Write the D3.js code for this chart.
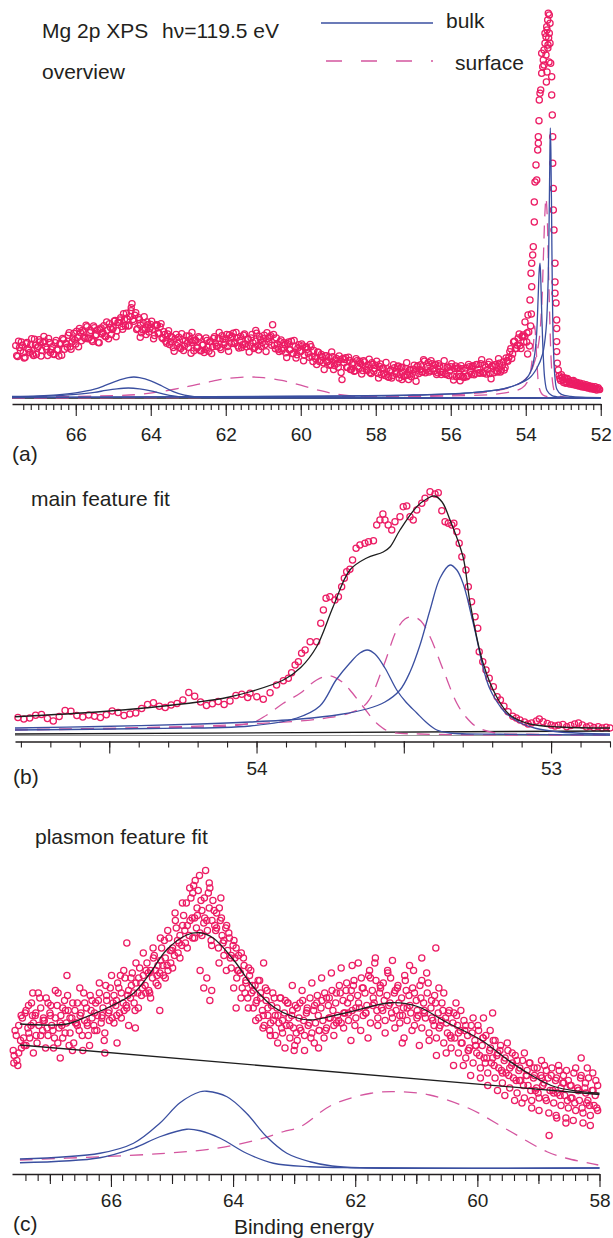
<!DOCTYPE html>
<html><head><meta charset="utf-8">
<script src="https://cdn.jsdelivr.net/npm/d3@7"></script>
<style>
body{margin:0;background:#fff}
svg{display:block}
text{font-family:"Liberation Sans",Arial,Helvetica,sans-serif;fill:#231f20}
</style></head>
<body>
<script>
// ---------- tick labels ----------
const aTickLabels=[66,64,62,60,58,56,54,52];
const bTickLabels=[54,53];
const bMajorTicks=[54.5,54,53.5,53];
const cTickLabels=[66,64,62,60,58];
const cMidTicks=[67,65,63,61,59];

// ---------- panel (a): overview spectrum [binding energy, intensity] ----------
const aBand=[
[67.60,13.1],[67.55,10.4],[67.50,12.6],[67.45,14.0],[67.40,11.3],[67.35,10.2],[67.30,13.9],[67.25,12.0],[67.20,13.3],[67.15,11.0],
[67.10,14.7],[67.05,10.9],[67.00,12.9],[66.95,14.0],[66.90,11.9],[66.85,15.4],[66.80,12.8],[66.75,10.6],[66.70,13.9],[66.65,12.1],
[66.60,11.0],[66.55,13.8],[66.50,12.0],[66.45,10.5],[66.40,13.6],[66.35,14.9],[66.30,12.2],[66.25,13.6],[66.20,15.7],[66.15,12.8],
[66.10,14.0],[66.05,16.2],[66.00,13.5],[65.95,15.1],[65.90,17.4],[65.85,14.3],[65.80,16.5],[65.75,14.9],[65.70,17.8],[65.65,15.0],
[65.60,16.9],[65.55,14.1],[65.50,17.6],[65.45,15.8],[65.40,13.9],[65.35,17.2],[65.30,16.0],[65.25,18.1],[65.20,15.3],[65.15,17.0],
[65.10,18.6],[65.05,15.9],[65.00,17.5],[64.95,19.4],[64.90,16.8],[64.85,18.9],[64.80,20.1],[64.75,17.2],[64.70,19.6],[64.65,21.2],
[64.60,18.0],[64.55,20.4],[64.50,23.6],[64.45,19.2],[64.40,21.3],[64.35,17.4],[64.30,19.6],[64.25,16.3],[64.20,18.8],[64.15,17.0],
[64.10,19.0],[64.05,16.5],[64.00,18.4],[63.95,17.2],[63.90,15.6],[63.85,18.3],[63.80,16.2],[63.75,17.8],[63.70,15.1],[63.65,16.6],
[63.60,14.2],[63.55,16.0],[63.50,13.4],[63.45,15.3],[63.40,12.6],[63.35,14.8],[63.30,13.1],[63.25,15.2],[63.20,12.4],[63.15,14.6],
[63.10,13.0],[63.05,15.5],[63.00,12.7],[62.95,14.6],[62.90,13.9],[62.85,11.8],[62.80,14.4],[62.75,12.6],[62.70,15.0],[62.65,11.9],
[62.60,13.3],[62.55,12.1],[62.50,14.4],[62.45,11.7],[62.40,14.1],[62.35,12.8],[62.30,15.3],[62.25,13.0],[62.20,14.9],[62.15,12.6],
[62.10,15.6],[62.05,13.4],[62.00,14.8],[61.95,12.9],[61.90,15.8],[61.85,13.6],[61.80,16.2],[61.75,13.9],[61.70,15.1],[61.65,12.5],
[61.60,15.4],[61.55,13.3],[61.50,16.0],[61.45,12.8],[61.40,14.7],[61.35,13.0],[61.30,15.9],[61.25,12.4],[61.20,14.2],[61.15,13.1],
[61.10,15.4],[61.05,12.9],[61.00,14.8],[60.95,13.4],[60.90,16.3],[60.85,14.0],[60.80,15.6],[60.75,18.3],[60.70,13.2],[60.65,15.0],
[60.60,12.2],[60.55,14.1],[60.50,11.9],[60.45,13.8],[60.40,11.3],[60.35,13.6],[60.30,12.0],[60.25,14.2],[60.20,11.1],[60.15,12.9],
[60.10,10.8],[60.05,13.3],[60.00,11.6],[59.95,13.0],[59.90,10.7],[59.85,12.8],[59.80,11.2],[59.75,13.4],[59.70,10.3],[59.65,11.9],
[59.60,9.8],[59.55,11.5],[59.50,9.1],[59.45,10.9],[59.40,8.8],[59.35,10.6],[59.30,9.0],[59.25,10.2],[59.20,8.4],[59.15,10.3],
[59.10,8.1],[59.05,9.9],[59.00,7.7],[58.95,9.6],[58.90,4.6],[58.85,8.9],[58.80,10.1],[58.75,7.6],[58.70,9.4],[58.65,7.1],
[58.60,8.9],[58.55,6.8],[58.50,9.3],[58.45,7.4],[58.40,8.6],[58.35,6.9],[58.30,9.0],[58.25,7.2],[58.20,8.3],[58.15,6.4],
[58.10,8.8],[58.05,6.7],[58.00,8.2],[57.95,6.2],[57.90,7.9],[57.85,5.8],[57.80,7.5],[57.75,5.6],[57.70,7.3],[57.65,5.2],
[57.60,7.0],[57.55,5.6],[57.50,7.6],[57.45,6.0],[57.40,8.0],[57.35,5.9],[57.30,7.7],[57.25,5.4],[57.20,7.4],[57.15,5.7],
[57.10,7.0],[57.05,5.3],[57.00,7.2],[56.95,5.6],[56.90,7.8],[56.85,6.1],[56.80,8.3],[56.75,6.5],[56.70,9.2],[56.65,7.0],
[56.60,8.9],[56.55,6.8],[56.50,8.6],[56.45,6.7],[56.40,8.4],[56.35,6.3],[56.30,8.0],[56.25,5.9],[56.20,7.9],[56.15,6.1],
[56.10,7.7],[56.05,5.6],[56.00,7.8],[55.95,5.5],[55.90,7.4],[55.85,5.3],[55.80,7.6],[55.75,5.4],[55.70,7.3],[55.65,5.1],
[55.60,7.5],[55.55,5.6],[55.50,7.8],[55.45,5.9],[55.40,8.1],[55.35,6.2],[55.30,8.4],[55.25,6.3],[55.20,8.6],[55.15,6.4],
[55.10,8.2],[55.05,6.0],[55.00,8.4],[54.95,6.1],[54.90,8.0],[54.85,6.3],[54.80,8.3],[54.75,6.5],[54.70,8.7],[54.65,7.0],
[54.60,9.0],[54.55,7.6],[54.50,9.4],[54.45,10.2],[54.40,12.3],[54.35,11.0],[54.30,14.2],[54.25,12.4],[54.20,15.0],[54.15,13.1],
[54.10,15.4],[54.05,14.0],
[64.52,22.6],[64.28,15.2],[62.90,16.4],[61.20,16.9],[57.30,4.6],[55.75,4.3]
];
const aBand2=[
[67.575,10.6],[67.525,14.2],[67.475,11.8],[67.425,13.2],[67.375,10.0],[67.325,13.6],[67.275,12.4],[67.225,11.4],[67.175,14.8],[67.125,10.6],
[67.075,13.2],[67.025,12.5],[66.975,14.6],[66.925,10.5],[66.875,13.9],[66.825,14.2],[66.775,12.2],[66.725,14.9],[66.675,11.4],[66.625,12.8],
[66.575,10.9],[66.525,14.4],[66.475,12.1],[66.425,13.6],[66.375,10.7],[66.325,14.6],[66.275,13.6],[66.225,12.7],[66.175,16.3],[66.125,12.2],
[66.075,15.0],[66.025,14.5],[65.975,16.7],[65.925,12.8],[65.875,16.4],[65.825,16.9],[65.775,15.2],[65.725,18.2],[65.675,14.8],[65.625,16.3],
[65.575,14.5],[65.525,18.0],[65.475,15.6],[65.425,17.0],[65.375,13.8],[65.325,17.5],[65.275,16.4],[65.225,15.5],[65.175,19.0],[65.125,14.8],
[65.075,17.6],[65.025,17.1],[64.975,19.2],[64.925,15.3],[64.875,18.9],[64.825,19.5],[64.775,17.9],[64.725,21.1],[64.675,18.0],[64.625,19.7],
[64.575,18.1],[64.525,21.8],[64.475,19.6],[64.425,20.7],[64.375,17.1],[64.325,20.1],[64.275,18.2],[64.225,17.1],[64.175,20.3],[64.125,15.9],
[64.075,18.3],[64.025,17.4],[63.975,19.2],[63.925,14.8],[63.875,18.0],[63.825,18.2],[63.775,16.1],[63.725,18.6],[63.675,14.8],[63.625,15.9],
[63.575,13.7],[63.525,16.8],[63.475,14.1],[63.425,15.1],[63.375,11.7],[63.325,15.9],[63.275,13.7],[63.225,12.7],[63.175,16.1],[63.125,11.9],
[63.075,14.4],[63.025,13.7],[62.975,15.5],[62.925,11.2],[62.875,14.3],[62.825,14.5],[62.775,12.5],[62.725,15.3],[62.675,11.8],[62.625,13.2],
[62.575,11.4],[62.525,15.0],[62.475,12.7],[62.425,14.1],[62.375,11.1],[62.325,14.9],[62.275,13.8],[62.225,12.9],[62.175,16.4],[62.125,12.1],
[62.075,14.7],[62.025,13.9],[61.975,15.9],[61.925,11.7],[61.875,15.1],[61.825,15.4],[61.775,13.6],[61.725,16.4],[61.675,13.0],[61.625,14.4],
[61.575,12.6],[61.525,15.7],[61.475,13.5],[61.425,14.7],[61.375,11.5],[61.325,15.0],[61.275,13.8],[61.225,12.7],[61.175,16.2],[61.125,12.0],
[61.075,14.6],[61.025,13.8],[60.975,15.7],[60.925,11.6],[60.875,14.9],[60.825,15.2],[60.775,13.2],[60.725,15.9],[60.675,12.3],[60.625,13.6],
[60.575,11.6],[60.525,14.5],[60.475,12.4],[60.425,13.4],[60.375,10.1],[60.325,14.0],[60.275,12.1],[60.225,11.1],[60.175,14.4],[60.125,10.0],
[60.075,12.5],[60.025,11.7],[59.975,13.5],[59.925,9.3],[59.875,12.7],[59.825,12.2],[59.775,10.2],[59.725,12.8],[59.675,9.1],[59.625,10.4],
[59.575,8.4],[59.525,11.4],[59.475,9.4],[59.425,10.3],[59.375,7.1],[59.325,10.6],[59.275,9.1],[59.225,8.2],[59.175,11.5],[59.125,7.1],
[59.075,9.5],[59.025,8.7],[58.975,10.5],[58.925,6.4],[58.875,9.9],[58.825,9.6],[58.775,7.7],[58.725,10.2],[58.675,7.1],[58.625,8.5],
[58.575,6.7],[58.525,9.8],[58.475,7.9],[58.425,9.2],[58.375,6.0],[58.325,9.3],[58.275,7.9],[58.225,6.9],[58.175,9.7],[58.125,6.1],
[58.075,8.4],[58.025,7.4],[57.975,9.2],[57.925,5.0],[57.875,8.5],[57.825,7.4],[57.775,6.1],[57.725,8.9],[57.675,5.3],[57.625,6.7],
[57.575,5.0],[57.525,8.3],[57.475,6.6],[57.425,7.8],[57.375,5.0],[57.325,7.6],[57.275,6.5],[57.225,5.6],[57.175,8.8],[57.125,4.6],
[57.075,7.1],[57.025,6.2],[56.975,8.2],[56.925,4.2],[56.875,8.1],[56.825,7.1],[56.775,6.5],[56.725,9.6],[56.675,6.3],[56.625,7.9],
[56.575,6.5],[56.525,9.3],[56.475,7.3],[56.425,8.4],[56.375,5.9],[56.325,8.6],[56.275,6.6],[56.225,6.4],[56.175,9.3],[56.125,5.9],
[56.075,7.7],[56.025,6.8],[55.975,8.6],[55.925,4.5],[55.875,8.0],[55.825,7.4],[55.775,5.9],[55.725,8.1],[55.675,5.3],[55.625,6.8],
[55.575,5.3],[55.525,8.4],[55.475,6.6],[55.425,7.8],[55.375,5.8],[55.325,8.3],[55.275,7.1],[55.225,6.2],[55.175,9.6],[55.125,6.2],
[55.075,7.7],[55.025,7.1],[54.975,9.0],[54.925,4.8],[54.875,8.0],[54.825,8.3],[54.775,6.7],[54.725,9.8],[54.675,6.5],[54.625,8.1],
[54.575,7.0],[54.525,10.0],[54.475,9.2],[54.425,11.6],[54.375,9.9],[54.325,14.0],[54.275,12.4],[54.225,13.2],[54.175,16.0],[54.125,12.4],
[54.075,15.3],[54.025,15.4]
];
const aPeak=[
[54.073,15.75],[54.02,19],[53.967,16.25],[53.94,20.75],[53.975,14],[53.95,11],[53.92,16.5],[53.90,13],[53.87,18],[53.85,21],
[53.887,24.5],[53.841,27.8],[53.86,31.2],[53.841,33.7],[53.815,35.75],[53.799,37.8],[53.772,44],[53.772,49],[53.753,54],[53.708,54.5],
[53.727,58.25],[53.681,62],[53.665,63.7],[53.665,65.3],[53.647,69.3],[53.639,74.5],[53.62,76.2],[53.601,77],[53.575,81.2],[53.548,82.8],
[53.532,84.5],[53.575,86.2],[53.513,87],[53.487,88.7],[53.46,90.3],[53.487,91.2],[53.441,92.8],[53.415,94.5],[53.399,96.2],[53.372,95.75],
[53.433,92],[53.407,88.25],[53.46,85.75],[53.38,84],[53.513,83.25],[53.433,81.5],[53.41,87.5],[53.45,79],[53.39,90],
[53.353,93.7],[53.372,91.2],[53.353,88.7],[53.335,83.7],[53.308,80.3],[53.308,75.75],[53.292,70.75],[53.281,65.3],[53.281,58.7],[53.265,52.4],
[53.265,47],[53.247,42],[53.22,33.7],[53.22,29],[53.22,26.2],[53.193,23.75],[53.175,19.5],[53.175,17.4],[53.175,14.1],[53.175,11.6],
[53.159,8.7],[53.132,7]
];
const aTail=[
[53.11,5.6],[53.07,4.4],[53.03,5.2],[52.99,3.9],[52.95,4.8],[52.91,4.0],[52.87,4.6],[52.83,3.5],[52.79,4.3],[52.75,3.4],
[52.71,4.1],[52.67,3.2],[52.63,3.9],[52.59,3.0],[52.55,3.7],[52.51,2.8],[52.47,3.5],[52.43,2.7],[52.39,3.3],[52.35,2.5],
[52.31,3.1],[52.27,2.3],[52.23,2.9],[52.19,2.2],[52.15,2.8],[52.11,2.0],[52.07,2.6],[52.03,2.1],
[53.09,4.9],[53.05,5.8],[53.01,4.5],[52.97,5.1],[52.93,3.7],[52.89,4.9],[52.85,4.1],[52.81,3.9],[52.77,3.6],[52.73,4.4],
[52.69,3.7],[52.65,3.5],[52.61,3.4],[52.57,3.1],[52.53,3.2],[52.49,2.9],[52.45,3.0],[52.41,3.0],[52.37,2.8],[52.33,2.7],
[52.29,2.8],[52.25,2.5],[52.21,2.5],[52.17,2.4],[52.13,2.3],[52.09,2.3],[52.05,2.2]
];
// fit components, panel (a)
const aBulkMain=[[67.7,0.15],[64,0.3],[60,0.45],[57,0.75],[55.5,1.3],[54.6,2.3],[54.2,3.5],[53.9,5],[53.7,7.5],[53.55,11],[53.46,17],[53.41,27],[53.38,42],[53.36,58],[53.345,67.5],[53.33,62],[53.31,45],[53.29,26],[53.26,12],[53.22,5],[53.17,2.2],[53.05,0.9],[52.8,0.4],[52.0,0.1]];
const aBulkSO=[[67.7,0.1],[64,0.25],[60,0.4],[57,0.7],[55.5,1.3],[54.6,2.3],[54.2,3.5],[54.0,4.7],[53.85,7],[53.76,11],[53.71,16],[53.67,25],[53.64,32],[53.62,33.7],[53.60,30],[53.57,20],[53.53,10],[53.49,4.5],[53.43,1.8],[53.3,0.6],[53.0,0.2],[52.0,0.05]];
const aSurfMain=[[67.7,0.1],[62,0.2],[58,0.4],[56,0.8],[55,1.5],[54.5,2.4],[54.1,4],[53.9,6],[53.75,9.5],[53.65,14],[53.58,22],[53.53,35],[53.49,46],[53.46,50],[53.43,46],[53.40,35],[53.36,20],[53.32,9],[53.27,3],[53.2,1],[53.0,0.3],[52.0,0.05]];
const aSurfSO=[[67.7,0.05],[60,0.2],[56,0.5],[54.6,1.2],[54.1,2.5],[53.93,4.5],[53.85,8],[53.79,14],[53.76,18],[53.73,14],[53.69,7],[53.64,2.5],[53.55,0.8],[53.3,0.2],[52.0,0]];
const aPlasBulk1=[[67.7,0.4],[67,0.55],[66.5,0.8],[66,1.3],[65.5,2.2],[65.2,3.2],[64.9,4.3],[64.6,5.1],[64.45,5.25],[64.3,5.1],[64.0,4.3],[63.7,3.0],[63.4,1.6],[63.1,0.7],[62.8,0.3],[62.4,0.15],[61,0.1],[52,0.05]];
const aPlasBulk2=[[67.7,0.3],[67,0.4],[66.5,0.6],[66,0.9],[65.5,1.4],[65.2,1.9],[64.9,2.3],[64.6,2.5],[64.3,2.3],[64.0,1.8],[63.7,1.1],[63.4,0.5],[63.1,0.2],[62.5,0.05],[52,0]];
const aPlasSurf=[[67.7,0.3],[66,0.4],[65,0.6],[64.3,0.9],[63.6,1.8],[63.0,2.9],[62.5,3.9],[62.0,4.8],[61.5,5.25],[61.3,5.25],[61.0,5.1],[60.5,4.4],[60.0,3.2],[59.5,1.9],[59.0,0.9],[58.5,0.4],[58,0.2],[52,0.1]];
const aBackground=[[67.7,0],[52,0]];

// ---------- panel (b): main feature fit ----------
const bData=[
[54.81,7.0],[54.79,6.4],[54.77,6.8],[54.75,7.9],[54.73,8.2],[54.71,6.6],[54.69,5.6],[54.67,7.4],[54.65,9.8],[54.63,9.5],
[54.61,7.8],[54.59,7.2],[54.57,8.0],[54.55,7.5],[54.53,7.0],[54.51,8.1],[54.49,9.6],[54.47,9.0],[54.45,7.8],[54.43,8.4],
[54.41,8.8],[54.39,10.6],[54.37,12.2],[54.35,12.9],[54.33,11.5],[54.31,11.0],[54.29,12.0],[54.27,12.6],[54.25,14.0],[54.23,17.0],
[54.21,15.5],[54.19,13.2],[54.17,11.8],[54.15,12.5],[54.13,13.4],[54.11,12.2],[54.09,13.6],[54.07,15.8],[54.05,16.3],[54.03,15.0],
[54.022,16.7],[53.999,15.3],[53.977,14.3],[53.954,16.9],[53.932,20.0],[53.909,21.7],[53.892,22.7],[53.881,24.9],[53.869,28.0],[53.858,29.3],
[53.847,32.7],[53.835,34.0],[53.818,37.3],[53.796,37.3],[53.782,44.7],[53.773,50.0],[53.764,54.7],[53.751,55.3],[53.734,54.0],[53.722,55.3],
[53.711,59.3],[53.702,62.7],[53.694,65.3],[53.683,66.3],[53.674,70.0],[53.662,74.7],[53.649,76.0],[53.632,76.7],[53.620,77.3],[53.603,77.7],
[53.592,84.0],[53.581,86.0],[53.571,88.4],[53.564,86.0],[53.553,84.0],[53.541,82.0],[53.530,85.3],[53.513,87.3],[53.502,91.3],[53.490,91.6],
[53.479,87.3],[53.468,86.0],[53.456,90.0],[53.439,92.7],[53.428,94.7],[53.411,97.3],[53.394,96.4],[53.383,96.9],[53.371,89.7],[53.360,85.3],
[53.349,84.7],[53.337,84.0],[53.330,84.7],[53.320,81.3],[53.312,76.7],[53.303,71.3],[53.289,66.0],[53.281,59.3],[53.270,53.3],[53.258,47.3],
[53.249,42.7],[53.244,33.3],[53.232,29.3],[53.221,26.0],[53.210,22.7],[53.196,19.3],[53.183,15.3],
[53.172,14.0],[53.16,11.5],[53.146,9.3],[53.13,7.5],[53.118,6.8],[53.106,6.0],[53.09,5.2],[53.078,4.4],[53.066,4.8],[53.05,5.6],
[53.04,6.4],[53.027,5.3],[53.013,4.6],[53.0,4.0],[52.987,3.6],[52.975,3.9],[52.96,4.2],[52.947,3.3],[52.933,3.8],[52.92,4.4],
[52.907,4.8],[52.894,4.0],[52.88,3.2],[52.868,3.6],[52.855,3.0],[52.84,3.3],[52.827,2.8],[52.813,3.1],[52.80,2.8]
];
const bFit=[[54.82,7.3],[54.531,9.3],[54.362,11],[54.192,13.3],[54.1,15],[54.022,17.3],[53.909,22],[53.85,27],[53.796,35.3],[53.74,51.3],[53.683,66],[53.626,70.8],[53.57,73.2],[53.547,75.2],[53.513,82],[53.456,91.3],[53.42,94.6],[53.396,95.6],[53.37,93.2],[53.343,86],[53.299,71.3],[53.275,52.8],[53.231,28.8],[53.185,15.3],[53.14,8],[53.072,4.4],[52.97,3.2],[52.8,2.8]];
const bBackground=[[54.82,0.4],[52.8,1.6]];
const bZero=[[54.82,-0.2],[52.8,-0.2]];
const bBulkMain=[[54.82,2.8],[54.531,3.4],[54.192,4.4],[54.022,5.2],[53.852,6.4],[53.717,8.2],[53.626,10.4],[53.564,13.2],[53.513,18],[53.479,25.2],[53.445,36],[53.411,50],[53.377,62.8],[53.343,68],[53.32,66],[53.3,61],[53.285,55],[53.275,50],[53.255,40],[53.231,27],[53.21,19],[53.185,13.5],[53.16,9.5],[53.14,7.5],[53.1,4.6],[53.05,2.6],[52.987,1.4],[52.9,0.7],[52.8,0.4]];
const bBulkSO=[[54.82,2.0],[54.362,2.6],[54.022,3.6],[53.863,6.8],[53.785,11.6],[53.73,22],[53.683,28.8],[53.649,32.8],[53.624,34],[53.598,32.4],[53.564,26.8],[53.524,18],[53.493,13.2],[53.456,8.8],[53.425,5.2],[53.388,2],[53.343,0.8],[53.173,0.3],[52.8,0]];
const bSurfSO=[[54.82,2],[54.362,2.8],[54.022,4.7],[53.965,8],[53.909,12.7],[53.852,16.7],[53.796,22],[53.751,23.7],[53.705,20.8],[53.683,18],[53.638,11.3],[53.592,4.7],[53.547,1.3],[53.445,0.4],[52.8,0]];
const bSurfMain=[[54.82,2.2],[54.362,3],[54.022,4.4],[53.785,6.4],[53.683,8.8],[53.626,12.7],[53.570,27.3],[53.524,42],[53.496,46.4],[53.468,47.3],[53.442,45.6],[53.411,39.3],[53.366,26],[53.320,12.7],[53.289,7.2],[53.253,3.3],[53.185,0.7],[53.072,0.3],[52.8,0]];

// ---------- panel (c): plasmon feature fit ----------
const cData=[
[67.60,47],[67.57,55],[67.54,43],[67.51,57],[67.48,51],[67.45,60],[67.42,49],[67.39,63],[67.36,56],[67.33,52],
[67.30,66],[67.27,58],[67.24,61],[67.21,50],[67.18,57],[67.15,64],[67.12,55],[67.09,59],[67.06,68],[67.03,53],
[67.00,62],[66.97,57],[66.94,48],[66.91,60],[66.88,65],[66.85,56],[66.82,61],[66.79,52],[66.76,67],[66.73,58],
[66.70,63],[66.67,54],[66.64,60],[66.61,50],[66.58,58],[66.55,66],[66.52,55],[66.49,62],[66.46,47],[66.43,59],
[66.40,64],[66.37,53],[66.34,69],[66.31,60],[66.28,57],[66.25,66],[66.22,61],[66.19,70],[66.16,58],[66.13,64],
[66.10,54],[66.07,67],[66.04,62],[66.01,72],[65.98,60],[65.95,69],[65.92,65],[65.89,74],[65.86,62],[65.83,70],
[65.80,66],[65.77,76],[65.74,64],[65.71,71],[65.68,68],[65.65,78],[65.62,66],[65.59,74],[65.56,70],[65.53,80],
[65.50,69],[65.47,77],[65.44,73],[65.41,82],[65.38,71],[65.35,79],[65.32,76],[65.29,85],[65.26,74],[65.23,81],
[65.20,78],[65.17,88],[65.14,77],[65.11,84],[65.08,81],[65.05,92],[65.02,82],[64.99,88],[64.96,85],[64.93,96],
[64.90,86],[64.87,93],[64.84,89],[64.81,101],[64.78,90],[64.75,97],[64.72,93],[64.69,108],[64.66,92],[64.63,100],
[64.60,96],[64.57,111],[64.54,94],[64.51,103],[64.48,98],[64.45,119],[64.42,95],[64.39,104],[64.36,91],[64.33,107],
[64.30,97],[64.27,102],[64.24,88],[64.21,99],[64.18,93],[64.15,85],[64.12,96],[64.09,87],[64.06,92],[64.03,80],
[64.00,89],[63.97,84],[63.94,76],[63.91,85],[63.88,78],[63.85,72],[63.82,81],[63.79,74],[63.76,68],[63.73,77],
[63.70,70],[63.67,64],[63.64,73],[63.61,67],[63.58,60],[63.55,70],[63.52,63],[63.49,57],[63.46,67],[63.43,61],
[63.40,55],[63.37,65],[63.34,59],[63.31,53],[63.28,64],[63.25,58],[63.22,68],[63.19,54],[63.16,62],[63.13,57],
[63.10,66],[63.07,52],[63.04,61],[63.01,56],[62.98,65],[62.95,51],[62.92,60],[62.89,55],[62.86,67],[62.83,53],
[62.80,62],[62.77,57],[62.74,68],[62.71,54],[62.68,63],[62.65,58],[62.62,69],[62.59,55],[62.56,64],[62.53,59],
[62.50,70],[62.47,56],[62.44,65],[62.41,60],[62.38,71],[62.35,57],[62.32,66],[62.29,61],[62.26,73],[62.23,58],
[62.20,67],[62.17,62],[62.14,74],[62.11,59],[62.08,68],[62.05,63],[62.02,75],[61.99,60],[61.96,69],[61.93,64],
[61.90,76],[61.87,61],[61.84,70],[61.81,65],[61.78,77],[61.75,58],[61.72,71],[61.69,66],[61.66,75],[61.63,60],
[61.60,70],[61.57,64],[61.54,74],[61.51,59],[61.48,69],[61.45,65],[61.42,76],[61.39,60],[61.36,70],[61.33,63],
[61.30,73],[61.27,58],[61.24,68],[61.21,64],[61.18,75],[61.15,59],[61.12,69],[61.09,62],[61.06,72],[61.03,57],
[61.00,67],[60.97,61],[60.94,73],[60.91,56],[60.88,66],[60.85,60],[60.82,70],[60.79,54],[60.76,64],[60.73,59],
[60.70,69],[60.67,52],[60.64,62],[60.61,57],[60.58,66],[60.55,50],[60.52,60],[60.49,54],[60.46,63],[60.43,48],
[60.40,58],[60.37,52],[60.34,61],[60.31,46],[60.28,55],[60.25,50],[60.22,59],[60.19,44],[60.16,53],[60.13,48],
[60.10,57],[60.07,42],[60.04,51],[60.01,46],[59.98,55],[59.95,40],[59.92,49],[59.89,44],[59.86,53],[59.83,38],
[59.80,47],[59.77,42],[59.74,51],[59.71,36],[59.68,45],[59.65,40],[59.62,49],[59.59,34],[59.56,43],[59.53,38],
[59.50,47],[59.47,32],[59.44,41],[59.41,36],[59.38,45],[59.35,30],[59.32,39],[59.29,35],[59.26,43],[59.23,28],
[59.20,37],[59.17,33],[59.14,42],[59.11,27],[59.08,36],[59.05,31],[59.02,40],[58.99,28],[58.96,37],[58.93,33],
[58.90,41],[58.87,27],[58.84,36],[58.81,31],[58.78,40],[58.75,26],[58.72,35],[58.69,30],[58.66,39],[58.63,25],
[58.60,34],[58.57,29],[58.54,39],[58.51,24],[58.48,33],[58.45,28],[58.42,38],[58.39,23],[58.36,32],[58.33,27],
[58.30,37],[58.27,22],[58.24,32],[58.21,26],[58.18,36],[58.15,21],[58.12,31],[58.09,25],[58.06,35],[58.03,23]
];
const cData2=[
[67.585,45],[67.525,41],[67.465,48],[67.405,62],[67.345,54],[67.285,61],[67.225,53],[67.165,68],[67.105,60],[67.045,56],
[66.985,65],[66.925,52],[66.865,70],[66.805,57],[66.745,63],[66.685,49],[66.625,66],[66.565,58],[66.505,61],[66.445,70],
[66.385,57],[66.325,63],[66.265,55],[66.205,67],[66.145,61],[66.085,73],[66.025,59],[65.965,66],[65.905,61],[65.845,77],
[65.785,63],[65.725,69],[65.665,73],[65.605,63],[65.545,76],[65.485,72],[65.425,79],[65.365,70],[65.305,84],[65.245,77],
[65.185,83],[65.125,91],[65.065,79],[65.005,87],[64.945,99],[64.885,90],[64.825,97],[64.765,106],[64.705,99],[64.645,113],
[64.585,101],[64.525,107],[64.465,100],[64.405,110],[64.345,99],[64.285,95],[64.225,104],[64.165,90],[64.105,97],[64.045,84],
[63.985,91],[63.925,79],[63.865,86],[63.805,70],[63.745,80],[63.685,73],[63.625,66],[63.565,75],[63.505,61],[63.445,71],
[63.385,58],[63.325,68],[63.265,61],[63.205,56],[63.145,67],[63.085,60],[63.025,63],[62.965,54],[62.905,66],[62.845,59],
[62.785,64],[62.725,52],[62.665,65],[62.605,61],[62.545,67],[62.485,55],[62.425,68],[62.365,63],[62.305,58],[62.245,70],
[62.185,62],[62.125,66],[62.065,71],[62.005,57],[61.945,66],[61.885,72],[61.825,62],[61.765,79],[61.705,68],[61.645,63],
[61.585,72],[61.525,67],[61.465,78],[61.405,62],[61.345,71],[61.285,66],[61.225,61],[61.165,71],[61.105,65],[61.045,79],
[60.985,63],[60.925,68],[60.865,62],[60.805,74],[60.745,60],[60.685,66],[60.625,56],[60.565,63],[60.505,58],[60.445,53],
[60.385,62],[60.325,57],[60.265,50],[60.205,55],[60.145,47],[60.085,54],[60.025,49],[59.965,45],[59.905,52],[59.845,44],
[59.785,48],[59.725,41],[59.665,46],[59.605,39],[59.545,44],[59.485,37],[59.425,42],[59.365,35],[59.305,40],[59.245,33],
[59.185,39],[59.125,31],[59.065,37],[59.005,30],[58.945,36],[58.885,28],[58.825,13],[58.765,31],[58.705,36],[58.645,29],
[58.585,34],[58.525,27],[58.465,33],[58.405,26],[58.345,31],[58.285,24],[58.225,30],[58.165,25],[58.105,31],[58.045,24]
];
const cData3=[
[67.59,42],[67.55,53],[67.51,46],[67.47,61],[67.43,52],[67.39,49],[67.35,65],[67.31,57],[67.27,46],[67.23,62],
[67.19,70],[67.15,53],[67.11,59],[67.07,48],[67.03,66],[66.99,61],[66.95,55],[66.91,71],[66.87,50],[66.83,58],
[66.79,64],[66.75,54],[66.71,69],[66.67,60],[66.63,47],[66.59,63],[66.55,57],[66.51,72],[66.47,53],[66.43,66],
[66.39,58],[66.35,49],[66.31,67],[66.27,62],[66.23,55],[66.19,74],[66.15,60],[66.11,51],[66.07,69],[66.03,63],
[65.99,77],[65.95,58],[65.91,67],[65.87,72],[65.83,60],[65.79,79],[65.75,65],[65.71,57],[65.67,76],[65.63,70],
[65.59,82],[65.55,64],[65.51,74],[65.47,86],[65.43,70],[65.39,78],[65.35,68],[65.31,88],[65.27,79],[65.23,73],
[65.19,92],[65.15,81],[65.11,76],[65.07,95],[65.03,87],[64.99,80],[64.95,102],[64.91,91],[64.87,84],[64.83,106],
[64.79,95],[64.75,88],[64.71,112],[64.67,100],[64.63,92],[64.59,104],[64.55,117],[64.51,93],[64.47,108],[64.43,99],
[64.39,114],[64.35,89],[64.31,103],[64.27,96],[64.23,82],[64.19,100],[64.15,91],[64.11,79],[64.07,94],[64.03,85],
[63.99,72],[63.95,88],[63.91,79],[63.87,68],[63.83,84],[63.79,75],[63.75,64],[63.71,79],[63.67,71],[63.63,59],
[63.59,75],[63.55,68],[63.51,56],[63.47,72],[63.43,64],[63.39,53],[63.35,70],[63.31,61],[63.27,50],[63.23,68],
[63.19,59],[63.15,48],[63.11,66],[63.07,57],[63.03,73],[62.99,49],[62.95,64],[62.91,56],[62.87,71],[62.83,47],
[62.79,63],[62.75,58],[62.71,74],[62.67,50],[62.63,66],[62.59,55],[62.55,76],[62.51,52],[62.47,68],[62.43,60],
[62.39,78],[62.35,53],[62.31,70],[62.27,59],[62.23,80],[62.19,56],[62.15,71],[62.11,62],[62.07,51],[62.03,73],
[61.99,64],[61.95,82],[61.91,55],[61.87,72],[61.83,62],[61.79,52],[61.75,76],[61.71,65],[61.67,84],[61.63,57],
[61.59,73],[61.55,63],[61.51,54],[61.47,79],[61.43,66],[61.39,83],[61.35,56],[61.31,72],[61.27,61],[61.23,50],
[61.19,77],[61.15,64],[61.11,81],[61.07,55],[61.03,70],[60.99,60],[60.95,49],[60.91,75],[60.87,63],[60.83,78],
[60.79,51],[60.75,67],[60.71,57],[60.67,45],[60.63,72],[60.59,59],[60.55,70],[60.51,46],[60.47,62],[60.43,52],
[60.39,41],[60.35,66],[60.31,54],[60.27,63],[60.23,41],[60.19,57],[60.15,47],[60.11,37],[60.07,60],[60.03,49],
[59.99,57],[59.95,36],[59.91,52],[59.87,42],[59.83,33],[59.79,55],[59.75,44],[59.71,51],[59.67,31],[59.63,47],
[59.59,38],[59.55,29],[59.51,50],[59.47,40],[59.43,46],[59.39,27],[59.35,43],[59.31,35],[59.27,26],[59.23,46],
[59.19,37],[59.15,42],[59.11,24],[59.07,40],[59.03,32],[58.99,23],[58.95,43],[58.91,34],[58.87,39],[58.83,22],
[58.79,37],[58.75,30],[58.71,21],[58.67,41],[58.63,32],[58.59,37],[58.55,20],[58.51,35],[58.47,28],[58.43,19],
[58.39,40],[58.35,31],[58.31,36],[58.27,18],[58.23,34],[58.19,27],[58.15,17],[58.11,38],[58.07,29],[58.03,33]
];
const cOutliers=[
[66.72,77],[65.74,90],[66.83,44],[67.28,70],[62.05,81],[61.68,82],[60.91,84],[60.68,88],[64.66,110],[64.62,115],
[64.38,112],[64.20,108],[63.95,64],[64.48,72],[64.43,76],[63.50,82],[66.10,46],[65.90,50],[59.75,62],[59.90,60],
[58.30,44],[58.20,40],[58.55,18],[58.70,20],[61.20,52],[62.60,48],[63.00,47],[65.60,56],[65.20,63],[64.38,67],
[64.35,71],[64.54,79]
];
const cFit=[[67.49,57.6],[66.72,57.6],[66.40,60.5],[66.02,64.5],[65.63,69.9],[65.36,77.9],[65.09,87.2],[64.76,93.2],[64.54,94.1],[64.32,91.9],[63.99,83.2],[63.67,72.5],[63.34,64.5],[63.01,60.5],[62.74,59.2],[62.18,61.9],[61.41,66.1],[60.97,64.5],[60.52,58.5],[59.94,51.2],[59.50,43.2],[59.17,37.9],[58.73,32.5],[58.00,29.9]];
const cBackground=[[67.49,49.2],[58.0,29.4]];
const cBulk1=[[67.49,3.6],[66.18,5.9],[65.63,9.9],[65.20,17.9],[64.87,26.1],[64.54,30.5],[64.43,30.7],[64.10,28.5],[63.78,21.9],[63.45,12.5],[63.12,5.9],[62.74,2.5],[62.38,0.8],[61.92,0.1],[58.0,0]];
const cBulk2=[[67.49,2.1],[66.18,4.1],[65.63,7.9],[65.20,12.5],[64.76,15.5],[64.54,14.9],[64.21,11.9],[63.78,5.9],[63.34,1.9],[62.74,0.5],[62.0,0.1],[58.0,0]];
const cSurf=[[67.49,3.2],[66.18,4.5],[65.09,5.9],[64.27,7.9],[63.61,11.2],[63.18,14.5],[62.90,16.5],[62.38,25.2],[61.74,29.9],[61.29,30.5],[60.78,29.2],[60.14,23.9],[59.50,15.2],[58.86,6.5],[58.54,3.9],[58.02,1.2]];

// ---------- drawing ----------
const W=613,H=1238;
const COL={pt:'#ec1c64',blue:'#3a4fa0',pink:'#d4559f',black:'#1e1e1e',axis:'#231f20',grey:'#9a9a9a'};
const svg=d3.select('body').append('svg').attr('width',W).attr('height',H);

function drawPanel(p){
  const x=d3.scaleLinear().domain(p.xDomain).range(p.xRange);
  const y=d3.scaleLinear().domain(p.yDomain).range(p.yRange);
  const g=svg.append('g');
  const ax=g.append('g').attr('transform',`translate(0,${p.axisY})`);
  ax.call(d3.axisBottom(x).tickValues(p.minor).tickSize(p.minorLen).tickSizeOuter(0).tickFormat(''));
  if(p.mid){
    const m=ax.append('g').call(d3.axisBottom(x).tickValues(p.mid).tickSize(p.midLen).tickFormat(''));
    m.select('.domain').remove();
  }
  const maj=ax.append('g').call(d3.axisBottom(x).tickValues(p.major).tickSize(p.majorLen).tickPadding(p.pad)
      .tickFormat(d=>p.labels.includes(d)?String(d):''));
  maj.select('.domain').remove();
  ax.selectAll('.domain').attr('stroke',COL.axis).attr('stroke-width',1.6);
  ax.selectAll('.tick line').attr('stroke',COL.axis).attr('stroke-width',1.1);
  ax.selectAll('text').attr('font-size',19).attr('font-family','"Liberation Sans",Arial,sans-serif').attr('fill',COL.axis);
  g.append('g').selectAll('circle').data(p.points).join('circle')
    .attr('cx',d=>x(d[0])).attr('cy',d=>y(d[1])).attr('r',3.1)
    .attr('fill','none').attr('stroke',COL.pt).attr('stroke-width',1.25);
  const line=d3.line().x(d=>x(d[0])).y(d=>y(d[1])).curve(d3.curveCatmullRom.alpha(0.5));
  p.curves.forEach(c=>{
    g.append('path').attr('d',line(c.data)).attr('fill','none').attr('stroke',c.color)
      .attr('stroke-width',c.w||1.3).attr('stroke-dasharray',c.dash||null);
  });
}

const dash='13,9';
drawPanel({
  xDomain:[67.7,52],xRange:[12,600.75],yDomain:[0,100],yRange:[398,-2],axisY:404,
  minor:d3.range(67.4,51.95,-0.2),minorLen:6,major:aTickLabels,majorLen:12,pad:12,labels:aTickLabels,
  points:aBand.concat(aBand2,aPeak,aTail),
  curves:[
    {data:aBackground,color:COL.black},
    {data:aPlasSurf,color:COL.pink,dash:dash},
    {data:aSurfSO,color:COL.pink,dash:dash},
    {data:aSurfMain,color:COL.pink,dash:dash},
    {data:aPlasBulk1,color:COL.blue},
    {data:aPlasBulk2,color:COL.blue},
    {data:aBulkSO,color:COL.blue},
    {data:aBulkMain,color:COL.blue}
  ]
});
drawPanel({
  xDomain:[54.82,52.8],xRange:[15,610],yDomain:[0,100],yRange:[735,485],axisY:741.5,
  minor:d3.range(54.8,52.79,-0.1),minorLen:6,major:bMajorTicks,majorLen:12,pad:8,labels:bTickLabels,
  points:bData,
  curves:[
    {data:bZero,color:COL.grey,w:1.2},
    {data:bBackground,color:COL.black},
    {data:bSurfSO,color:COL.pink,dash:dash},
    {data:bSurfMain,color:COL.pink,dash:dash},
    {data:bBulkSO,color:COL.blue},
    {data:bBulkMain,color:COL.blue},
    {data:bFit,color:COL.black}
  ]
});
drawPanel({
  xDomain:[67.62,58],xRange:[12,599.5],yDomain:[0,120],yRange:[1168,868],axisY:1174,
  minor:d3.range(67.4,57.95,-0.2),minorLen:7,mid:cMidTicks,midLen:10,major:cTickLabels,majorLen:13,pad:7,labels:cTickLabels,
  points:cData.concat(cData2,cData3,cOutliers),
  curves:[
    {data:cSurf,color:COL.pink,dash:dash},
    {data:cBulk2,color:COL.blue},
    {data:cBulk1,color:COL.blue},
    {data:cBackground,color:COL.black},
    {data:cFit,color:COL.black}
  ]
});

// ---------- text & legend ----------
function txt(s,x,y){svg.append('text').attr('x',x).attr('y',y).attr('font-size',21).text(s);}
txt('Mg 2p XPS',42,38);
txt('h\u03bd=119.5 eV',162,38);
txt('overview',42,79);
svg.append('line').attr('x1',321).attr('x2',433).attr('y1',23).attr('y2',23).attr('stroke',COL.blue).attr('stroke-width',1.3);
txt('bulk',446,28);
svg.append('line').attr('x1',326).attr('x2',433).attr('y1',61).attr('y2',61).attr('stroke',COL.pink).attr('stroke-width',1.3).attr('stroke-dasharray','16,19');
txt('surface',455,70);
txt('(a)',12,461);
txt('main feature fit',31,506);
txt('(b)',13,784);
txt('plasmon feature fit',35,844);
txt('(c)',13,1231);
svg.append('text').attr('x',304).attr('y',1234).attr('font-size',21).attr('text-anchor','middle').text('Binding energy');
</script>
</body></html>
